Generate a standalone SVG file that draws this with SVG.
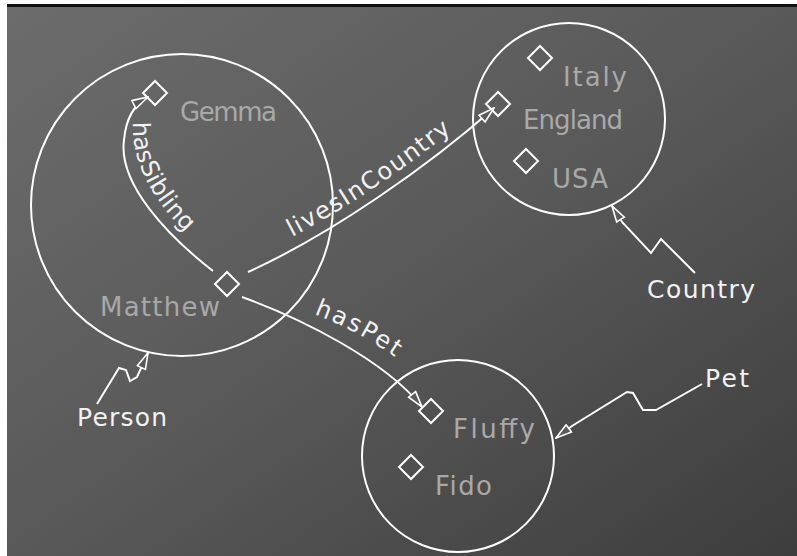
<svg xmlns="http://www.w3.org/2000/svg" width="797" height="556" viewBox="0 0 797 556">
<style>
.set{fill:none;stroke:#ffffff;stroke-width:2}
.inst{fill:none;stroke:#ffffff;stroke-width:2}
.conn{fill:none;stroke:#ffffff;stroke-width:2;marker-end:url(#arr)}
.lbl{font-family:"DejaVu Sans","Liberation Sans",sans-serif;font-size:26px;fill:#a9a9a9}
.cls{font-family:"DejaVu Sans","Liberation Sans",sans-serif;font-size:25px;fill:#f2f2f2}
.rel{font-family:"DejaVu Sans","Liberation Sans",sans-serif;font-size:24px;fill:#f2f2f2}
</style>
<defs>
<linearGradient id="bg" x1="0" y1="0" x2="1" y2="1">
<stop offset="0" stop-color="#6c6c6c"/>
<stop offset="0.5" stop-color="#595959"/>
<stop offset="1" stop-color="#3d3d3d"/>
</linearGradient>
<marker id="arr" markerUnits="userSpaceOnUse" viewBox="0 0 18 12" refX="17" refY="6" markerWidth="18" markerHeight="12" orient="auto">
<path d="M1,1.5 L17,6 L1,10.5 Z" fill="#5a5a5a" stroke="#ffffff" stroke-width="1.6"/>
</marker>
<path id="dia" d="M0,-12 L12,0 L0,12 L-12,0 Z"/>
<path id="tpSib" d="M133,122 C131,165 156,208 199,244"/>
<path id="tpLive" d="M292,237 Q375,193 458,126"/>
<path id="tpPet" d="M314,314 Q361,332 399,360"/>
</defs>
<rect x="0" y="0" width="797" height="556" fill="#ffffff"/>
<rect x="7" y="7" width="790" height="549" fill="url(#bg)"/>
<rect x="7" y="4" width="790" height="3" fill="#111111"/>

<g id="Person">
<circle class="set" cx="182" cy="205" r="151"/>
<text class="cls" x="77" y="426" textLength="90">Person</text>
</g>
<g id="Country">
<circle class="set" cx="569" cy="119" r="96"/>
<text class="cls" x="647" y="298" textLength="108">Country</text>
</g>
<g id="Pet">
<circle class="set" cx="458" cy="456" r="96"/>
<text class="cls" x="705" y="387" textLength="44">Pet</text>
</g>

<g id="Gemma">
<use href="#dia" class="inst" x="155" y="93"/>
<text class="lbl" x="180" y="121" textLength="97">Gemma</text>
</g>
<g id="Matthew">
<use href="#dia" class="inst" x="227" y="284"/>
<text class="lbl" x="100" y="316" textLength="120">Matthew</text>
</g>
<g id="Italy">
<use href="#dia" class="inst" x="540" y="58"/>
<text class="lbl" x="563" y="86" textLength="64">Italy</text>
</g>
<g id="England">
<use href="#dia" class="inst" x="498" y="104"/>
<text class="lbl" x="523" y="129" textLength="100">England</text>
</g>
<g id="USA">
<use href="#dia" class="inst" x="526" y="161"/>
<text class="lbl" x="552" y="188" textLength="56">USA</text>
</g>
<g id="Fluffy">
<use href="#dia" class="inst" x="431" y="411"/>
<text class="lbl" x="453" y="438" textLength="82">Fluffy</text>
</g>
<g id="Fido">
<use href="#dia" class="inst" x="411" y="467"/>
<text class="lbl" x="435" y="495" textLength="57">Fido</text>
</g>

<g id="connectors">
<path class="conn" d="M213,271 C168,236 118,184 124,140 C126,118 135,104 148,97"/>
<path class="conn" d="M248,272 C330,235 430,165 494,108"/>
<path class="conn" d="M242,297 C300,318 385,360 422,407"/>
<path class="conn" d="M97,404 L119,368 L126,370 L130,381 L137,377 L148,353"/>
<path class="conn" d="M695,273 L661,239 L651,253 L622,222 L612,206"/>
<path class="conn" d="M702,384 L656,410 L643,410 L633,393 L627,392 L572,426 L556,438"/>
<text class="rel"><textPath href="#tpSib" textLength="126">hasSibling</textPath></text>
<text class="rel"><textPath href="#tpLive" textLength="192">livesInCountry</textPath></text>
<text class="rel"><textPath href="#tpPet" textLength="92">hasPet</textPath></text>
</g>
</svg>
